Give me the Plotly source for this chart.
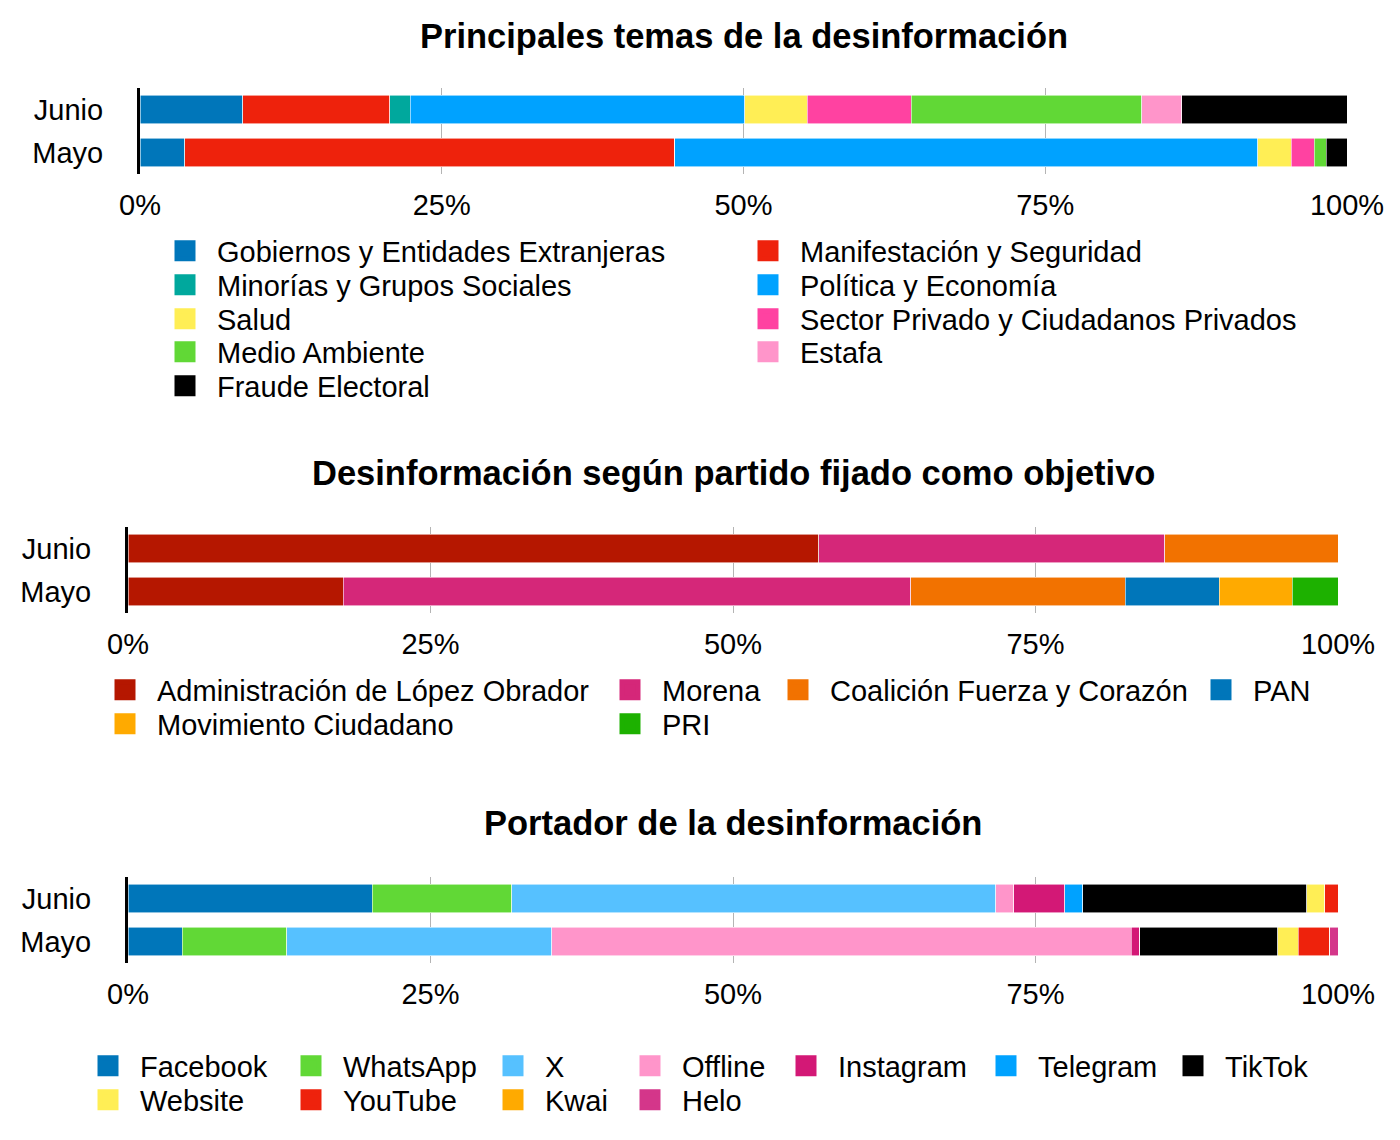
import plotly.graph_objects as go

# --- data (percent of each month) ---
meses = ['Junio', 'Mayo']

temas = ['Gobiernos y Entidades Extranjeras', 'Manifestación y Seguridad',
         'Minorías y Grupos Sociales', 'Política y Economía', 'Salud',
         'Sector Privado y Ciudadanos Privados', 'Medio Ambiente', 'Estafa',
         'Fraude Electoral']
temas_junio = [8.5, 12.2, 1.7, 27.7, 5.2, 8.6, 19.1, 3.3, 13.7]
temas_mayo = [3.7, 40.6, 0, 48.3, 2.8, 1.9, 1.0, 0, 1.7]
temas_colores = ['#0076BA', '#EE220C', '#00A89D', '#00A2FF', '#FFEE55',
                 '#FF42A1', '#61D836', '#FF95CA', '#000000']

partidos = ['Administración de López Obrador', 'Morena',
            'Coalición Fuerza y Corazón', 'PAN', 'Movimiento Ciudadano', 'PRI']
partidos_junio = [57.1, 28.6, 14.3, 0, 0, 0]
partidos_mayo = [17.8, 46.9, 17.7, 7.8, 6.0, 3.8]
partidos_colores = ['#B51700', '#D52779', '#F27200', '#0076BA', '#FFAA00',
                    '#1DB100']

portadores = ['Facebook', 'WhatsApp', 'X', 'Offline', 'Instagram', 'Telegram',
              'TikTok', 'Website', 'YouTube', 'Kwai', 'Helo']
portadores_junio = [20.2, 11.5, 40.0, 1.5, 4.2, 1.5, 18.5, 1.5, 1.1, 0, 0]
portadores_mayo = [4.5, 8.6, 21.9, 47.9, 0.7, 0, 11.4, 1.7, 2.6, 0, 0.7]
portadores_colores = ['#0076BA', '#61D836', '#56C1FF', '#FF95CA', '#D31876',
                      '#00A2FF', '#000000', '#FFEE55', '#EE220C', '#FFAA00',
                      '#D4368A']

tick_vals = [0, 25, 50, 75, 100]
tick_text = ['0%', '25%', '50%', '75%', '100%']

W, H = 1400, 1140
OFF = 8  # page body margin of the browser
FONT = 'Liberation Sans, Arial, sans-serif'


def fx(px):
    return (px - OFF) / W


def fy(py):
    return 1 - (py - OFF) / H


panels = [
    dict(title='Principales temas de la desinformación', names=temas,
         junio=temas_junio, mayo=temas_mayo, colors=temas_colores,
         x0=140, x1=1347, y0=88, y1=174, title_y=36,
         rows=[[0, 1], [2, 3], [4, 5], [6, 7], [8]],
         row_y=[251, 285, 319, 352, 386], cols=[185, 768]),
    dict(title='Desinformación según partido fijado como objetivo',
         names=partidos, junio=partidos_junio, mayo=partidos_mayo,
         colors=partidos_colores,
         x0=128, x1=1338, y0=527, y1=613, title_y=473,
         rows=[[0, 1, 2, 3], [4, 5]],
         row_y=[690, 724], cols=[125, 630, 798, 1221]),
    dict(title='Portador de la desinformación', names=portadores,
         junio=portadores_junio, mayo=portadores_mayo,
         colors=portadores_colores,
         x0=128, x1=1338, y0=877, y1=963, title_y=823,
         rows=[[0, 1, 2, 3, 4, 5, 6], [7, 8, 9, 10]],
         row_y=[1066, 1100], cols=[108, 311, 513, 650, 806, 1006, 1193]),
]

fig = go.Figure()
layout = {}
annotations = []
legend_n = 0

for p_i, p in enumerate(panels):
    sfx = '' if p_i == 0 else str(p_i + 1)
    xa, ya = 'x' + sfx, 'y' + sfx

    for name, vj, vm, col in zip(p['names'], p['junio'], p['mayo'], p['colors']):
        fig.add_trace(go.Bar(
            x=[vj, vm], y=meses, name=name, orientation='h',
            marker=dict(color=col, line=dict(color='rgba(255,255,255,0.7)', width=0.8)),
            xaxis=xa, yaxis=ya, showlegend=False,
            hovertemplate='%{y}: %{x}%<extra>' + name + '</extra>'))

    # legend rows (one legend per row so columns line up like the original)
    for r_i, row in enumerate(p['rows']):
        legend_n += 1
        lg = 'legend' if legend_n == 1 else 'legend%d' % legend_n
        for j, idx in enumerate(row):
            lw = None
            if j + 1 < len(p['cols']) and j + 1 < len(row):
                lw = p['cols'][j + 1] - p['cols'][j] - 69
            fig.add_trace(go.Scatter(
                x=[None], y=[None], mode='markers', name=p['names'][idx],
                marker=dict(symbol='square', size=16, color=p['colors'][idx],
                            line=dict(color=p['colors'][idx], width=5)),
                xaxis=xa, yaxis=ya, legend=lg, legendwidth=lw,
                hoverinfo='skip'))
        layout[lg] = dict(
            orientation='h', x=fx(p['cols'][0] - 32), xanchor='left',
            y=fy(p['row_y'][r_i] - 25.5), yanchor='top',
            font=dict(family=FONT, size=29, color='#000000'),
            itemwidth=54, bgcolor='rgba(0,0,0,0)', borderwidth=0,
            traceorder='normal', itemclick=False, itemdoubleclick=False)

    layout['xaxis' + sfx] = dict(
        domain=[fx(p['x0']), fx(p['x1'])], anchor=ya, range=[0, 100],
        tickmode='array', tickvals=tick_vals, ticktext=tick_text,
        showgrid=True, gridcolor='#b4b4b4', gridwidth=1, zeroline=False,
        showline=False, ticks='outside', ticklen=5,
        tickcolor='rgba(0,0,0,0)',
        tickfont=dict(family=FONT, size=29, color='#000000'), fixedrange=True)
    layout['yaxis' + sfx] = dict(
        domain=[fy(p['y1']), fy(p['y0'])], anchor=xa,
        categoryorder='array', categoryarray=meses[::-1], range=[-0.5, 1.5],
        showline=True, linecolor='#000000', linewidth=3, showgrid=False,
        zeroline=False, ticks='outside', ticklen=28,
        tickcolor='rgba(0,0,0,0)',
        tickfont=dict(family=FONT, size=29, color='#000000'), fixedrange=True)

    annotations.append(dict(
        text='<b>' + p['title'] + '</b>', xref=xa + ' domain', x=0.5,
        yref='paper', y=fy(p['title_y']), xanchor='center',
        yanchor='middle', showarrow=False,
        font=dict(family=FONT, size=34.5, color='#000000')))

fig.update_layout(
    width=W, height=H, barmode='stack', bargap=0.33,
    margin=dict(l=0, r=0, t=0, b=0, autoexpand=False),
    paper_bgcolor='#ffffff', plot_bgcolor='#ffffff',
    font=dict(family=FONT, size=29, color='#000000'),
    annotations=annotations, **layout)

fig.write_html('out.html')
